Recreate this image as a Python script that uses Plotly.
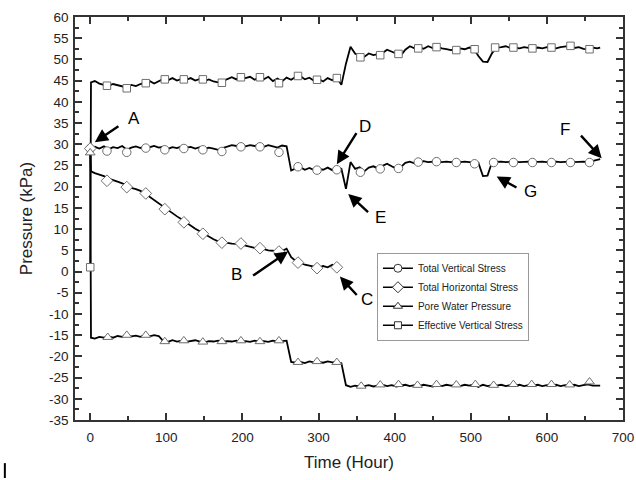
import plotly.graph_objects as go

# ---------------- data ----------------
time_h = [0, 1, 6, 12, 18, 24, 30, 36, 42, 48, 54, 60, 66, 72, 78, 84, 90, 96, 102, 108,
          114, 120, 126, 132, 138, 144, 150, 156, 162, 168, 174, 180, 186, 192, 198, 204,
          210, 216, 222, 228, 234, 240, 246, 252, 258, 264, 270, 276, 282, 288, 294, 300,
          306, 312, 318, 324, 330, 336, 342, 348, 354, 360, 366, 372, 378, 384, 390, 396,
          402, 408, 414, 420, 426, 432, 438, 444, 450, 456, 462, 468, 474, 480, 486, 492,
          498, 504, 510, 516, 522, 528, 534, 540, 546, 552, 558, 564, 570, 576, 582, 588,
          594, 600, 606, 612, 618, 624, 630, 636, 642, 648, 654, 660, 666, 670]

total_vertical = [29.0, 29.2, 29.4, 29.0, 29.5, 28.8, 29.3, 29.1, 29.6, 28.7, 29.2, 29.5, 29.1,
                  29.7, 29.3, 29.6, 29.2, 29.4, 28.9, 29.3, 29.1, 29.5, 29.2, 29.4, 29.0, 29.3,
                  28.9, 29.2, 29.0, 28.7, 29.1, 29.5, 29.8, 29.6, 29.9, 29.5, 29.8, 29.6, 29.9,
                  29.4, 29.8, 29.5, 29.2, 29.7, 29.5, 23.8, 24.3, 24.6, 24.0, 24.4, 23.9, 24.2,
                  24.0, 24.5, 23.9, 24.4, 24.2, 19.5, 25.8, 24.2, 24.6, 23.6, 24.5, 24.8, 24.3,
                  24.9, 25.4, 24.8, 24.3, 24.6, 25.6, 25.9, 25.5, 25.8, 26.0, 25.8, 25.9, 26.0,
                  25.8, 25.9, 25.8, 25.9, 25.8, 25.9, 25.8, 25.7, 25.6, 22.5, 22.6, 25.8, 25.9,
                  25.9, 25.8, 25.9, 25.9, 25.8, 25.9, 25.9, 25.8, 25.9, 25.9, 25.8, 25.9, 25.9,
                  25.8, 25.9, 25.9, 25.8, 25.9, 25.9, 25.8, 26.0, 26.2, 26.5]

effective_vertical = [1.0, 44.6, 44.9, 44.3, 44.0, 43.8, 44.2, 43.9, 43.6, 43.4, 44.0, 43.7, 44.2,
                      44.5, 44.9, 44.3, 44.8, 45.4, 45.1, 45.6, 45.0, 45.4, 45.2, 45.6, 45.0, 45.4,
                      44.9, 45.3, 44.8, 44.6, 44.9, 45.4, 45.8, 45.3, 46.0, 45.6, 45.9, 45.2, 45.8,
                      45.3, 45.9, 44.9, 45.5, 44.8, 45.7, 45.2, 45.9, 46.1, 45.3, 45.7, 45.0, 45.4,
                      44.8, 45.6, 45.1, 45.7, 44.0, 49.0, 53.0, 51.4, 50.8, 50.6, 51.4, 51.0, 51.2,
                      51.5, 52.3, 51.9, 51.4, 50.9, 52.3, 53.1, 52.6, 52.9, 52.5, 53.1, 52.7, 53.0,
                      52.6, 52.4, 52.2, 52.4, 52.6, 52.4, 52.8, 52.5, 50.8, 49.5, 49.4, 51.5, 52.8,
                      52.9, 53.1, 52.7, 52.8, 52.6, 52.9, 52.7, 52.5, 52.8, 52.6, 52.9, 52.8, 52.6,
                      52.9, 53.1, 53.2, 52.7, 52.9, 52.5, 52.4, 52.8, 52.6, 52.8]

pore_water = [28.0, -15.6, -15.8, -15.4, -15.6, -15.3, -15.6, -15.2, -15.4, -15.0, -15.3, -15.1,
              -15.4, -15.0, -15.3, -15.0, -15.2, -16.4, -16.6, -16.2, -16.5, -16.3, -16.6, -16.4,
              -16.2, -16.5, -16.7, -16.4, -16.5, -16.3, -16.6, -16.4, -16.5, -16.3, -16.5, -16.4,
              -16.6, -16.3, -16.5, -16.4, -16.6, -16.3, -16.5, -16.4, -16.3, -21.3, -21.5, -21.3,
              -21.6, -21.2, -21.4, -21.3, -21.5, -21.2, -21.4, -21.3, -21.6, -26.8, -27.2, -26.9,
              -27.1, -27.0, -26.8, -27.1, -26.9, -26.7, -27.0, -26.8, -27.1, -26.9, -26.7, -27.0,
              -26.8, -27.0, -26.7, -26.9, -27.1, -26.8, -27.0, -26.7, -26.9, -26.8, -27.0, -26.7,
              -26.9, -26.6, -27.2, -26.7, -27.0, -26.8, -26.9, -26.7, -27.0, -26.8, -26.9, -26.7,
              -27.0, -26.8, -26.9, -26.7, -27.0, -26.8, -26.9, -26.7, -27.0, -26.8, -26.9, -26.7,
              -27.0, -26.8, -26.6, -26.9, -26.8, -26.9]

total_horizontal = [29.0, 23.6, 23.2, 22.8, 22.5, 21.9, 21.6, 21.2, 20.8, 20.3, 19.7, 19.4, 19.0,
                    18.4, 17.6, 16.8, 16.0, 15.2, 14.4, 13.6, 13.0, 12.3, 11.5, 10.8, 10.1, 9.5,
                    8.8, 8.1, 7.6, 7.1, 6.9, 6.8, 6.6, 6.5, 6.4, 6.1, 5.8, 5.6, 5.4, 5.3, 5.0,
                    4.9, 4.6, 4.8, 5.4, 3.4, 2.5, 2.0, 1.6, 1.4, 1.2, 0.9, 1.3, 1.0, 1.6, 1.0]

# sparse symbol positions
tv_mark_t = [0, 22, 48, 73, 98, 123, 148, 173, 198, 223, 248, 273, 298, 324, 355, 381, 405,
             431, 455, 481, 505, 530, 556, 581, 606, 631, 656]
tv_mark_v = [29.0, 28.4, 28.1, 29.1, 28.7, 29.0, 28.7, 28.3, 29.4, 29.4, 28.1, 24.7, 23.9, 24.0,
             23.4, 24.2, 24.3, 25.8, 25.9, 25.7, 25.4, 25.7, 25.7, 25.7, 25.7, 25.7, 25.7]

th_mark_t = [0, 22, 48, 73, 98, 123, 148, 173, 198, 223, 248, 273, 298, 324]
th_mark_v = [29.0, 21.4, 19.9, 18.4, 14.7, 11.6, 8.9, 6.8, 6.6, 5.5, 4.7, 2.1, 0.8, 1.0]

pw_mark_t = [0, 23, 48, 73, 98, 123, 148, 173, 198, 223, 248, 273, 298, 324, 356, 381, 405,
             430, 455, 481, 506, 530, 556, 580, 606, 630, 656]
pw_mark_v = [28.0, -15.5, -15.0, -15.0, -16.5, -16.3, -16.6, -16.5, -16.3, -16.5, -16.3, -21.4,
             -21.2, -21.4, -27.0, -26.7, -26.6, -26.8, -26.6, -26.7, -26.6, -26.8, -26.6, -26.6,
             -26.6, -26.7, -26.0]

ev_mark_t = [0, 22, 48, 73, 98, 123, 148, 173, 198, 223, 248, 273, 298, 324, 355, 381, 405,
             431, 455, 481, 505, 532, 556, 581, 606, 631, 656]
ev_mark_v = [1.0, 43.8, 43.2, 44.4, 45.3, 45.3, 45.3, 44.5, 45.8, 45.8, 44.4, 46.1, 45.2, 45.6,
             50.5, 51.0, 51.3, 52.6, 52.9, 52.2, 52.4, 52.8, 52.8, 52.6, 52.8, 53.2, 52.4]

series_names = ["Total Vertical Stress", "Total Horizontal Stress",
                "Pore Water Pressure", "Effective Vertical Stress"]

y_tick_vals = [60, 55, 50, 45, 40, 35, 30, 25, 20, 15, 10, 5, 0, -5, -10, -15, -20, -25, -30, -35]
y_tick_text = ["60", "55", "50", "45", "40", "35", "30", "25", "20", "15", "10", "5", "0",
               "-5", "-10", "-15", "-20", "-25", "-30", "-35"]
x_tick_vals = [0, 100, 200, 300, 400, 500, 600, 700]

# annotations: label, text pos, arrow tail, arrow head (data coords)
labels = ["A", "B", "C", "D", "E", "F", "G"]
label_pos = [(57, 36.0), (192, -0.8), (364, -6.7), (361, 34.1), (381, 12.8), (624, 33.4), (579, 18.8)]
arrow_tail = [(39, 34.5), (212, -1.2), (352, -5.9), (351, 33.0), (367, 13.7), (643, 32.4), (562, 19.6)]
arrow_head = [(6, 30.5), (260, 4.7), (328, -1.2), (324, 25.3), (339, 18.3), (672, 26.7), (534, 22.4)]

# ---------------- figure ----------------
FONT = "Liberation Sans, Arial, sans-serif"
fig = go.Figure()

line_style = dict(color="black", width=1.8)
mk_line = dict(color="#6e6e6e", width=1)

lines = [total_vertical, total_horizontal, pore_water, effective_vertical]
marks = [(tv_mark_t, tv_mark_v), (th_mark_t, th_mark_v), (pw_mark_t, pw_mark_v), (ev_mark_t, ev_mark_v)]
symbols = ["circle", "diamond", "triangle-up", "square"]
sizes = [8.5, 9, 8.5, 7.5]

for vals in lines:
    fig.add_trace(go.Scatter(x=time_h[:len(vals)], y=vals, mode="lines", line=line_style,
                             showlegend=False, hoverinfo="skip"))

for (mt, mv), sym, sz in zip(marks, symbols, sizes):
    fig.add_trace(go.Scatter(x=mt, y=mv, mode="markers", showlegend=False,
                             marker=dict(symbol=sym, size=sz, color="white", line=mk_line)))

# legend entries
for name, sym, sz in zip(series_names, symbols, sizes):
    fig.add_trace(go.Scatter(x=[None], y=[None], mode="lines+markers", name=name,
                             line=dict(color="black", width=1.5),
                             marker=dict(symbol=sym, size=sz - 0.5, color="white",
                                         line=dict(color="#333333", width=1))))

for lab, lp, tl, hd in zip(labels, label_pos, arrow_tail, arrow_head):
    fig.add_annotation(x=lp[0], y=lp[1], xref="x", yref="y", text=lab, showarrow=False,
                       font=dict(family=FONT, size=17, color="black"))
    fig.add_annotation(x=hd[0], y=hd[1], ax=tl[0], ay=tl[1], xref="x", yref="y",
                       axref="x", ayref="y", text="", showarrow=True, arrowhead=2,
                       arrowsize=1.1, arrowwidth=2.4, arrowcolor="black", standoff=0)

axis_common = dict(showline=True, linecolor="#333333", linewidth=1.5, mirror="ticks",
                   ticks="inside", tickcolor="#333333", tickwidth=1.5, showgrid=False,
                   zeroline=False, tickfont=dict(family=FONT, size=13.5, color="#222222"))

fig.update_xaxes(range=[-20, 700], tickvals=x_tick_vals, ticklen=7, ticklabelstandoff=4,
                 minor=dict(ticks="inside", ticklen=4, dtick=50, tick0=0, tickcolor="#333333",
                            tickwidth=1.5),
                 title=dict(text="Time (Hour)", font=dict(family=FONT, size=17, color="#222222"),
                            standoff=12),
                 **axis_common)
fig.update_yaxes(range=[-35, 60], tickvals=y_tick_vals, ticktext=y_tick_text, ticklen=7,
                 ticklabelstandoff=2,
                 minor=dict(ticks="inside", ticklen=4, dtick=2.5, tick0=0, tickcolor="#333333",
                            tickwidth=1.5),
                 title=dict(text="Pressure (kPa)", font=dict(family=FONT, size=17, color="#222222"),
                            standoff=12),
                 **axis_common)

# small stray mark at the bottom-left corner of the original image
fig.add_shape(type="line", xref="paper", yref="paper", x0=-0.128, x1=-0.128,
              y0=-0.107, y1=-0.144, line=dict(color="black", width=2))

fig.update_layout(
    width=636, height=480,
    margin=dict(l=75, r=13, t=17, b=60, autoexpand=False),
    plot_bgcolor="white", paper_bgcolor="white",
    legend=dict(x=0.551, y=0.415, xanchor="left", yanchor="top", bgcolor="white",
                bordercolor="#999999", borderwidth=1,
                font=dict(family=FONT, size=10, color="#222222"),
                tracegroupgap=0, itemwidth=30),
    font=dict(family=FONT),
)

fig.write_html("out.html")
